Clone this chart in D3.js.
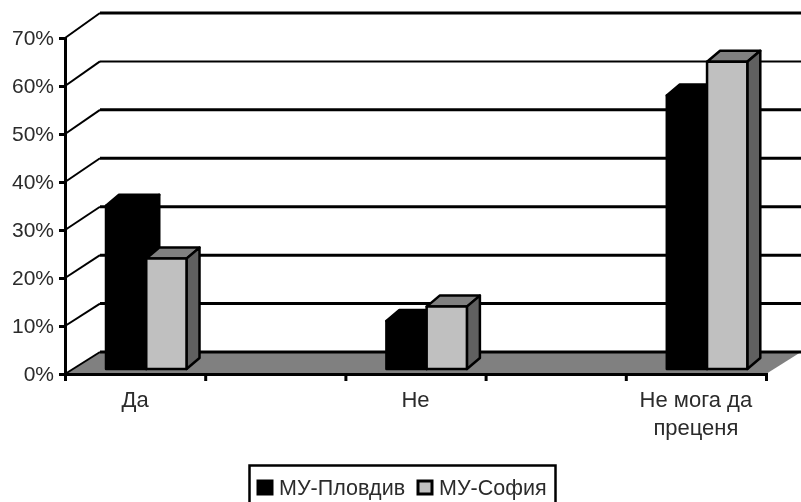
<!DOCTYPE html>
<html>
<head>
<meta charset="utf-8">
<script src="https://cdn.jsdelivr.net/npm/d3@7"></script>
<style>
html, body { margin: 0; padding: 0; background: #fff; overflow: hidden; }
svg { display: block; filter: blur(0.6px); }
text { font-family: "Liberation Sans", Arial, sans-serif; fill: #2b2b2b; }
</style>
</head>
<body>
<svg id="chart" width="801" height="502"></svg>
<script>
// blank slots are real categories in the original, that is why the ticks are every 140px
const categories = ["Да", "-", "Не", "--", "Не мога да преценя"];
const seriesNames = ["МУ-Пловдив", "МУ-София"];
const plovdiv = [34, null, 10, null, 57];
const sofia = [23, null, 13, null, 64];
const yTicks = [0, 10, 20, 30, 40, 50, 60, 70];

const svg = d3.select("#chart");

const plotLeft = 65, plotRight = 766, plotBase = 374, plotTop = 38;
const depthX = 35, depthY = 22;
const barDepthX = 13, barDepthY = 11;

const x = d3.scaleBand().domain(categories).range([plotLeft, plotRight]);
const inner = d3.scaleBand().domain(seriesNames).range([41, 121.5]);
const y = d3.scaleLinear().domain([0, 70]).range([plotBase, plotTop]);
// back wall is a bit taller than the front axis in the source
const yBack = d3.scaleLinear().domain([0, 70]).range([plotBase - depthY, 13]);
// bars stand in the middle of the floor
const yBar = d3.scaleLinear().domain([0, 70]).range([369, 33]);

// floor
svg.append("polygon")
    .attr("points", [[plotLeft, plotBase], [plotLeft + depthX, plotBase - depthY], [plotRight + depthX, plotBase - depthY], [plotRight, plotBase]].join(" "))
    .attr("fill", "#808080");

// gridlines on back wall + the diagonal on the left wall
const grid = svg.append("g").selectAll("g").data(yTicks).join("g");
grid.append("line")
    .attr("x1", plotLeft + depthX).attr("x2", plotRight + depthX)
    .attr("y1", d => yBack(d)).attr("y2", d => yBack(d))
    .attr("stroke", "#000")
    .attr("stroke-width", d => d === 60 ? 2 : 3);
grid.append("line")
    .attr("x1", plotLeft).attr("x2", plotLeft + depthX)
    .attr("y1", d => y(d)).attr("y2", d => yBack(d))
    .attr("stroke", "#000")
    .attr("stroke-width", 2);

function drawBars(values, name, front, topFill, sideFill) {
    const g = svg.append("g").selectAll("g")
        .data(values.map((v, i) => ({v, cat: categories[i]})).filter(d => d.v !== null))
        .join("g")
        .attr("stroke", "#000")
        .attr("stroke-width", 2.5)
        .attr("stroke-linejoin", "round");

    const x0 = d => x(d.cat) + inner(name);
    const x1 = d => x0(d) + inner.bandwidth();

    g.append("polygon").attr("fill", topFill)
        .attr("points", d => [[x0(d), yBar(d.v)], [x0(d) + barDepthX, yBar(d.v) - barDepthY],
            [x1(d) + barDepthX, yBar(d.v) - barDepthY], [x1(d), yBar(d.v)]].join(" "));
    g.append("polygon").attr("fill", sideFill)
        .attr("points", d => [[x1(d), yBar(d.v)], [x1(d) + barDepthX, yBar(d.v) - barDepthY],
            [x1(d) + barDepthX, yBar(0) - barDepthY], [x1(d), yBar(0)]].join(" "));
    g.append("rect").attr("fill", front)
        .attr("x", x0)
        .attr("y", d => yBar(d.v))
        .attr("width", inner.bandwidth())
        .attr("height", d => yBar(0) - yBar(d.v));
}

drawBars(plovdiv, seriesNames[0], "#000", "#000", "#000");
drawBars(sofia, seriesNames[1], "#c0c0c0", "#808080", "#606060");

// axes
const yAxis = svg.append("g")
    .attr("transform", `translate(${plotLeft},0)`)
    .call(d3.axisLeft(y).tickValues(yTicks).tickFormat(d => d + "%").tickSize(6).tickPadding(5));
const xTicks = d3.range(categories.length + 1).map(i => plotLeft + i * x.step());
const xAxis = svg.append("g")
    .attr("transform", `translate(0,${plotBase})`)
    .call(d3.axisBottom(d3.scaleLinear().domain([plotLeft, plotRight]).range([plotLeft, plotRight]))
        .tickValues(xTicks).tickFormat("").tickSize(7));
[yAxis, xAxis].forEach(a => {
    a.selectAll("path, line").attr("stroke", "#000").attr("stroke-width", 3);
    a.select(".domain").attr("stroke-width", 3);
});
yAxis.selectAll("text").attr("font-size", 21).attr("fill", "#2b2b2b");

// category labels, long one wraps on two lines
const catLabels = svg.append("g").selectAll("text")
    .data(categories.filter(c => !c.startsWith("-")))
    .join("text")
    .attr("text-anchor", "middle")
    .attr("font-size", 22);
catLabels.each(function(d) {
    const lines = d.length > 12 ? ["Не мога да", "преценя"] : [d];
    d3.select(this).selectAll("tspan").data(lines).join("tspan")
        .attr("x", x(d) + x.bandwidth() / 2)
        .attr("y", (l, i) => 407 + i * 28)
        .text(l => l);
});

// legend, bottom edge runs off the picture
const legend = svg.append("g");
legend.append("rect")
    .attr("x", 249.5).attr("y", 465.5).attr("width", 306).attr("height", 50)
    .attr("fill", "#fff").attr("stroke", "#000").attr("stroke-width", 2.5);
const legendX = [258, 418];
const legendFill = ["#000", "#c0c0c0"];
seriesNames.forEach((name, i) => {
    legend.append("rect")
        .attr("x", legendX[i]).attr("y", 481).attr("width", 14).attr("height", 13)
        .attr("fill", legendFill[i]).attr("stroke", "#000").attr("stroke-width", 3);
    legend.append("text")
        .attr("x", legendX[i] + 21).attr("y", 495)
        .attr("font-size", 21.5)
        .text(name);
});
</script>
</body>
</html>
